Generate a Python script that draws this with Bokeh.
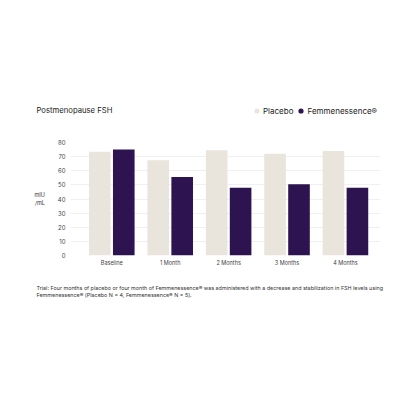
from bokeh.plotting import figure
from bokeh.layouts import column
from bokeh.models import (ColumnDataSource, Range1d, FixedTicker, Label,
                          Legend, LegendItem)
from bokeh.embed import file_html
from bokeh.resources import INLINE

# data
categories = ["Baseline", "1 Month", "2 Months", "3 Months", "4 Months"]
placebo = [73.5, 67.5, 74.5, 72, 74]
femmenessence = [75, 55.5, 48, 50.5, 48]
y_ticks = [0, 10, 20, 30, 40, 50, 60, 70, 80]

PLACEBO = "#e9e5dd"
FEMME = "#2d1450"
FONT = "Inter"
W = 400


def blank(h):
    # a bare figure used as a text panel (pixel-like ranges)
    f = figure(width=W, height=h, output_backend="svg", toolbar_location=None,
               x_range=Range1d(0, W), y_range=Range1d(0, h),
               x_axis_type=None, y_axis_type=None, min_border=0,
               frame_align=False)
    f.grid.visible = False
    f.outline_line_color = None
    return f


# header: title + legend
top = blank(130)
top.add_layout(Label(x=36, y=130 - 110.3, text="Postmenopause FSH",
                     text_font=FONT, text_font_size="7.7px",
                     text_color="#222222", text_baseline="middle"))
# legend-only renderers (their single point sits off the panel)
r_p = top.scatter([-50], [-50], marker="circle", fill_color=PLACEBO, line_color=None)
r_f = top.scatter([-50], [-50], marker="circle", fill_color=FEMME, line_color=None)
legend = Legend(items=[LegendItem(label="Placebo", renderers=[r_p]),
                       LegendItem(label="Femmenessence\u00ae", renderers=[r_f])],
                orientation="horizontal", location=(250, 12))
legend.glyph_width = 13
legend.glyph_height = 15
legend.label_standoff = 0
legend.spacing = 1
legend.padding = 0
legend.margin = 0
legend.border_line_color = None
legend.background_fill_alpha = 0
legend.label_text_font = FONT
legend.label_text_font_size = "8px"
legend.label_text_color = "#222222"
top.add_layout(legend, "center")

# main chart
xs = list(range(len(categories)))
src = ColumnDataSource(data=dict(
    x_p=[i - 0.205 for i in xs],
    x_f=[i + 0.205 for i in xs],
    placebo=placebo,
    femme=femmenessence,
))

p = figure(width=W, height=150, output_backend="svg", toolbar_location=None,
           x_range=Range1d(-0.707, 4.6), y_range=Range1d(0, 80),
           frame_align=False)
p.min_border_left = 70
p.min_border_right = 20
p.min_border_top = 12
p.min_border_bottom = 25
p.outline_line_color = None

p.vbar(x="x_p", top="placebo", width=0.37, source=src,
       fill_color=PLACEBO, line_color=None)
p.vbar(x="x_f", top="femme", width=0.37, source=src,
       fill_color=FEMME, line_color=None)

p.xaxis.ticker = FixedTicker(ticks=xs)
p.xaxis.major_label_overrides = {i: c for i, c in enumerate(categories)}
p.yaxis.ticker = FixedTicker(ticks=y_ticks)
for ax in (p.xaxis, p.yaxis):
    ax.axis_line_color = None
    ax.major_tick_line_color = None
    ax.minor_tick_line_color = None
    ax.major_tick_out = 0
    ax.major_tick_in = 0
    ax.minor_tick_out = 0
    ax.major_label_text_font = FONT
    ax.major_label_text_color = "#444444"
p.xaxis.major_label_text_font_size = "5.5px"
p.xaxis.major_label_standoff = 4
p.yaxis.major_label_text_font_size = "6px"
p.yaxis.major_label_standoff = 5
p.yaxis.axis_label = "mIU\n/mL"
p.yaxis.axis_label_orientation = "horizontal"
p.yaxis.axis_label_text_font = FONT
p.yaxis.axis_label_text_font_size = "5.5px"
p.yaxis.axis_label_text_font_style = "normal"
p.yaxis.axis_label_text_color = "#333333"
p.yaxis.axis_label_standoff = 10

p.xgrid.grid_line_color = None
p.ygrid.grid_line_color = "#f0f0f0"

# footnote
bottom = blank(120)
notes = ["Trial: Four months of placebo or four month of Femmenessence\u00ae was administered with a decrease and stabilization in FSH levels using",
         "Femmenessence\u00ae (Placebo N = 4, Femmenessence\u00ae N = 5)."]
for k, line in enumerate(notes):
    bottom.add_layout(Label(x=36, y=120 - (7 + k * 7), text=line,
                            text_font=FONT, text_font_size="5.4px",
                            text_color="#333333", text_baseline="middle"))

page = column(top, p, bottom, spacing=0)
open("out.html", "w").write(file_html(page, INLINE))
